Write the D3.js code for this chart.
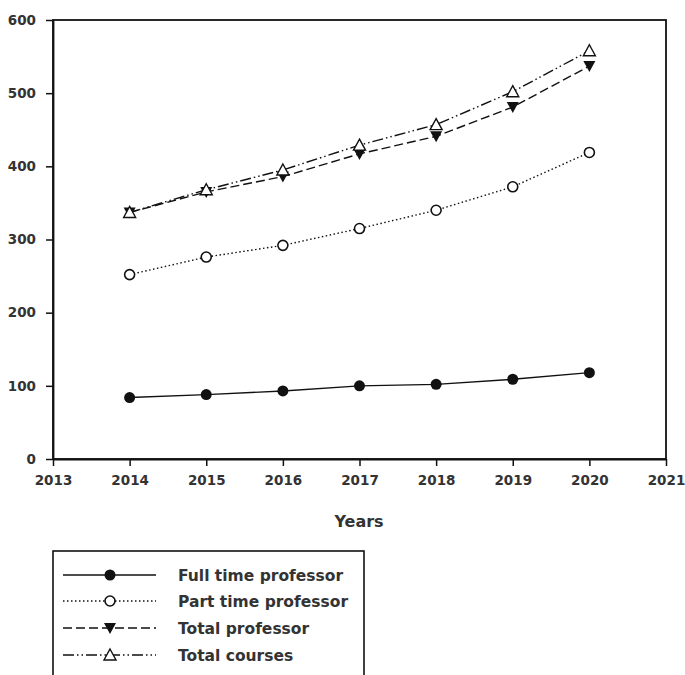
<!DOCTYPE html>
<html><head><meta charset="utf-8">
<script src="https://cdn.jsdelivr.net/npm/d3@7"></script>
<style>body{margin:0;background:#fff}svg{display:block}</style>
</head><body>
<svg id="c" width="685" height="675"></svg>
<script>
const years = [2014, 2015, 2016, 2017, 2018, 2019, 2020];
const fullTime = [84, 88, 93, 100, 102, 109, 118];
const partTime = [252, 276, 292, 315, 340, 372, 419];
const totalProfessor = [337, 365, 386, 417, 441, 481, 537];
const totalCourses = [337, 368, 395, 429, 457, 502, 558];
const seriesNames = ["Full time professor", "Part time professor", "Total professor", "Total courses"];
const xTicks = [2013, 2014, 2015, 2016, 2017, 2018, 2019, 2020, 2021];
const yTicks = [0, 100, 200, 300, 400, 500, 600];

const svg = d3.select("#c");
const L = 53, R = 666, T = 20, B = 459;
const x = d3.scaleLinear().domain([2013, 2021]).range([L, R]);
const y = d3.scaleLinear().domain([0, 600]).range([B, T]);
const ink = "#111";
const font = "'DejaVu Sans', sans-serif";

// frame
svg.append("rect").attr("x", L).attr("y", T).attr("width", R - L).attr("height", B - T)
  .attr("fill", "none").attr("stroke", ink).attr("stroke-width", 1.8);

const xAxis = svg.append("g").attr("transform", `translate(0,${B})`)
  .call(d3.axisBottom(x).tickValues(xTicks).tickFormat(d => String(d)).tickSize(7).tickSizeOuter(0));
const yAxis = svg.append("g").attr("transform", `translate(${L},0)`)
  .call(d3.axisLeft(y).tickValues(yTicks).tickSize(7).tickSizeOuter(0));
[xAxis, yAxis].forEach(a => {
  a.select(".domain").attr("stroke", ink).attr("stroke-width", 1.8);
  a.selectAll(".tick line").attr("stroke", ink).attr("stroke-width", 1.5);
  a.selectAll(".tick text").attr("fill", "#333").attr("font-family", font)
    .attr("font-size", 13.5).attr("font-weight", "bold");
});
xAxis.selectAll(".tick text").attr("dy", "1.2em");
yAxis.selectAll(".tick text").attr("x", -17);

svg.append("text").attr("x", 359).attr("y", 527).attr("text-anchor", "middle")
  .attr("font-family", font).attr("font-size", 16).attr("font-weight", "bold").attr("fill", "#333")
  .text("Years");

const dashes = [null, "1.5,2.5", "9,4", "11,3,1.5,3,1.5,3"];
const datasets = [fullTime, partTime, totalProfessor, totalCourses];
const markers = ["fcircle", "ocircle", "dtri", "utri"];

function drawMarker(g, type, cx, cy) {
  if (type === "fcircle") g.append("circle").attr("cx", cx).attr("cy", cy).attr("r", 5.5).attr("fill", ink);
  else if (type === "ocircle") g.append("circle").attr("cx", cx).attr("cy", cy).attr("r", 5).attr("fill", "#fff").attr("stroke", ink).attr("stroke-width", 1.6);
  else if (type === "dtri") g.append("path").attr("d", `M${cx-6},${cy-5}L${cx+6},${cy-5}L${cx},${cy+6}Z`).attr("fill", ink);
  else g.append("path").attr("d", `M${cx},${cy-6}L${cx+6},${cy+5}L${cx-6},${cy+5}Z`).attr("fill", "#fff").attr("stroke", ink).attr("stroke-width", 1.4);
}

const line = d3.line().x(d => x(d[0])).y(d => y(d[1]));
datasets.forEach((vals, i) => {
  const pts = years.map((yr, k) => [yr, vals[k]]);
  svg.append("path").datum(pts).attr("d", line).attr("fill", "none").attr("stroke", ink)
    .attr("stroke-width", 1.4).attr("stroke-dasharray", dashes[i]);
});
datasets.forEach((vals, i) => {
  const g = svg.append("g");
  years.forEach((yr, k) => drawMarker(g, markers[i], x(yr), y(vals[k])));
});

// legend
svg.append("rect").attr("x", 53).attr("y", 551).attr("width", 311).attr("height", 140)
  .attr("fill", "none").attr("stroke", ink).attr("stroke-width", 1.6);
const rowY = [575, 601, 628, 655];
seriesNames.forEach((name, i) => {
  const g = svg.append("g");
  g.append("line").attr("x1", 63).attr("x2", 156).attr("y1", rowY[i]).attr("y2", rowY[i])
    .attr("stroke", ink).attr("stroke-width", 1.4).attr("stroke-dasharray", dashes[i]);
  drawMarker(g, markers[i], 110, rowY[i]);
  g.append("text").attr("x", 178).attr("y", rowY[i]).attr("dy", "0.36em")
    .attr("font-family", font).attr("font-size", 15.5).attr("font-weight", "bold").attr("fill", "#333")
    .text(name);
});
</script>
</body></html>
